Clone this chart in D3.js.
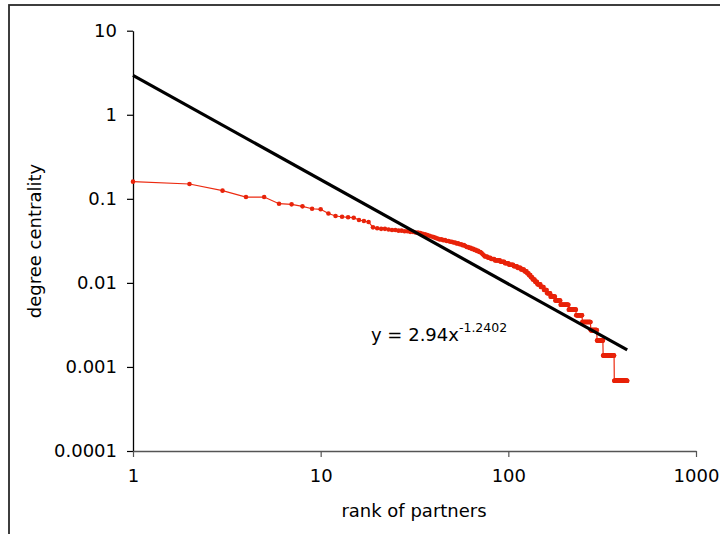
<!DOCTYPE html>
<html>
<head>
<meta charset="utf-8">
<script src="https://cdn.jsdelivr.net/npm/d3@7"></script>
<style>
  body { margin: 0; background: #fff; }
  svg { display: block; font-family: "DejaVu Sans", Verdana, sans-serif; }
</style>
</head>
<body>
<div id="chart"></div>
<script>
// degree centrality of partners by rank, log-log, with power trendline

// ranks 1..19 read one by one
const headValues = [0.160, 0.150, 0.125, 0.105, 0.105, 0.0875, 0.086, 0.0814, 0.0762, 0.075,
    0.0670, 0.0625, 0.0612, 0.0603, 0.0596, 0.0560, 0.0545, 0.0530, 0.0458];

// from rank 20 on, ranks sharing the same value come in runs
const runValues = [0.04458, 0.04390, 0.04321, 0.04252, 0.04184, 0.04115, 0.04047, 0.03978,
    0.03909, 0.03841, 0.03772, 0.03704, 0.03635, 0.03567, 0.03498, 0.03429, 0.03361,
    0.03292, 0.03224, 0.03155, 0.03086, 0.03018, 0.02949, 0.02881, 0.02812, 0.02743,
    0.02675, 0.02606, 0.02538, 0.02469, 0.02401, 0.02332, 0.02263, 0.02195, 0.02126,
    0.02058, 0.01989, 0.01920, 0.01852, 0.01783, 0.01715, 0.01646, 0.01578, 0.01509,
    0.01440, 0.01372, 0.01303, 0.01235, 0.01166, 0.01097, 0.01029, 0.00960, 0.00892,
    0.00823, 0.00754, 0.00686, 0.00617, 0.00549, 0.00480, 0.00412, 0.00343, 0.00274,
    0.00206, 0.00137, 0.000686];
const runCounts = [1, 2, 1, 2, 2, 2, 2, 2,
    1, 1, 1, 1, 1, 1, 1, 1, 1,
    2, 2, 2, 2, 2, 2, 2, 2, 1,
    2, 2, 2, 2, 2, 2, 1, 1, 1,
    3, 3, 4, 6, 5, 5, 6, 5, 5,
    5, 4, 3, 3, 3, 4, 4, 6, 6,
    6, 7, 10, 12, 20, 20, 18, 27, 22,
    23, 47, 64];

// trendline y = 2.94x^-1.2402
const fitCoef = 2.94;
const fitExp = -1.2402;

const xTicks = [1, 10, 100, 1000];
const xTickLabels = ["1", "10", "100", "1000"];
const yTicks = [10, 1, 0.1, 0.01, 0.001, 0.0001];
const yTickLabels = ["10", "1", "0.1", "0.01", "0.001", "0.0001"];

const width = 720, height = 534;
const plot = { left: 133, right: 696, top: 30.7, bottom: 451 };

const svg = d3.select("#chart")
    .append("svg")
    .attr("width", width)
    .attr("height", height);

// chart frame
svg.append("rect")
    .attr("x", 9)
    .attr("y", 5)
    .attr("width", 740)
    .attr("height", 560)
    .attr("fill", "none")
    .attr("stroke", "#2a2a2a")
    .attr("stroke-width", 1.8);

// build points
const points = headValues.map((v, i) => ({ rank: i + 1, value: v }));
let rank = headValues.length + 1;
runValues.forEach((v, i) => {
    for (let k = 0; k < runCounts[i]; k++) {
        points.push({ rank: rank, value: v });
        rank++;
    }
});
const maxRank = points[points.length - 1].rank;

const x = d3.scaleLog()
    .domain([1, 1000])
    .range([plot.left, plot.right]);

const y = d3.scaleLog()
    .domain([0.0001, 10])
    .range([plot.bottom, plot.top]);

// axes
const yAxis = svg.append("g")
    .attr("transform", `translate(${plot.left},0)`)
    .call(d3.axisLeft(y)
        .tickValues(yTicks)
        .tickFormat((d, i) => yTickLabels[i])
        .tickSize(6)
        .tickSizeOuter(0)
        .tickPadding(10));

const xAxis = svg.append("g")
    .attr("transform", `translate(0,${plot.bottom})`)
    .call(d3.axisBottom(x)
        .tickValues(xTicks)
        .tickFormat((d, i) => xTickLabels[i])
        .tickSize(6)
        .tickSizeOuter(0)
        .tickPadding(12));

[yAxis, xAxis].forEach(g => {
    g.selectAll("text")
        .attr("fill", "#000")
        .style("font-family", "'DejaVu Sans', Verdana, sans-serif")
        .style("font-size", "18px");
    g.select(".domain").attr("stroke-width", 1.3);
    g.selectAll(".tick line").attr("stroke-width", 1.2);
});
xAxis.select(".domain").attr("stroke", "#555");
xAxis.selectAll(".tick line").attr("stroke", "#555");

// data series
const line = d3.line()
    .x(d => x(d.rank))
    .y(d => y(d.value));

svg.append("path")
    .datum(points)
    .attr("fill", "none")
    .attr("stroke", "#ec2a10")
    .attr("stroke-width", 1.2)
    .attr("d", line);

svg.append("g")
    .selectAll("circle")
    .data(points)
    .enter()
    .append("circle")
    .attr("cx", d => x(d.rank))
    .attr("cy", d => y(d.value))
    .attr("r", 2.3)
    .attr("fill", "#e8230a");

// power trendline (straight on log-log)
const fitPoints = [1, maxRank].map(r => ({ rank: r, value: fitCoef * Math.pow(r, fitExp) }));
svg.append("path")
    .datum(fitPoints)
    .attr("fill", "none")
    .attr("stroke", "#000")
    .attr("stroke-width", 3.2)
    .attr("d", line);

// equation
const eq = svg.append("text")
    .attr("x", 371)
    .attr("y", 341)
    .style("font-size", "18px")
    .attr("fill", "#000");
eq.append("tspan").text("y = 2.94x");
eq.append("tspan")
    .attr("dy", -9)
    .style("font-size", "12.5px")
    .text("-1.2402");

// axis titles
svg.append("text")
    .attr("x", (plot.left + plot.right) / 2 - 0.5)
    .attr("y", 517)
    .attr("text-anchor", "middle")
    .style("font-size", "18px")
    .text("rank of partners");

svg.append("text")
    .attr("transform", "rotate(-90)")
    .attr("x", -241)
    .attr("y", 41)
    .attr("text-anchor", "middle")
    .style("font-size", "18px")
    .text("degree centrality");
</script>
</body>
</html>
